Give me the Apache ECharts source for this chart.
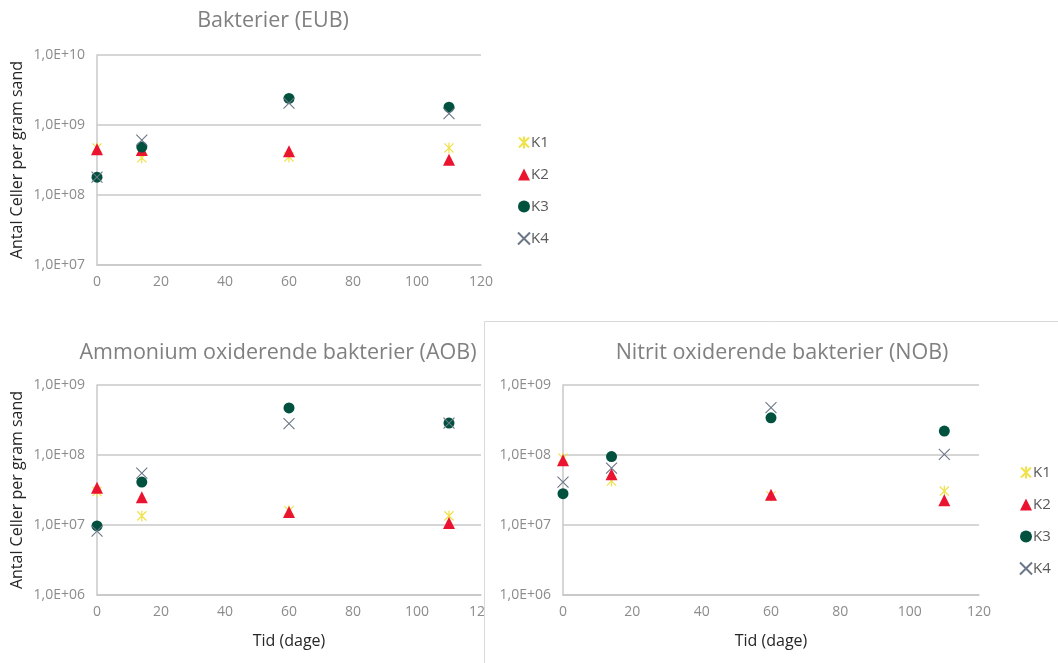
<!DOCTYPE html>
<html>
<head>
<meta charset="utf-8">
<script src="https://cdn.jsdelivr.net/npm/echarts@6/dist/echarts.min.js"></script>
<style>
  html, body { margin: 0; padding: 0; background: #fff; }
  #main { width: 1058px; height: 663px; }
</style>
</head>
<body>
<div id="main"></div>
<script>
// sampling days
var days = [0, 14, 60, 110];

// Bakterier (EUB)
var eubK1 = [4.7e8, 3.4e8, 3.5e8, 4.7e8];
var eubK2 = [4.5e8, 4.4e8, 4.2e8, 3.2e8];
var eubK3 = [1.8e8, 4.85e8, 2.4e9, 1.8e9];
var eubK4 = [1.8e8, 6.1e8, 2.05e9, 1.45e9];

// Ammonium oxiderende bakterier (AOB)
var aobK1 = [3.0e7, 1.35e7, 1.6e7, 1.35e7];
var aobK2 = [3.4e7, 2.5e7, 1.53e7, 1.07e7];
var aobK3 = [9.7e6, 4.1e7, 4.7e8, 2.86e8];
var aobK4 = [8.2e6, 5.5e7, 2.8e8, 2.86e8];

// Nitrit oxiderende bakterier (NOB)
var nobK1 = [9.0e7, 4.25e7, 2.6e7, 3.05e7];
var nobK2 = [8.4e7, 5.3e7, 2.7e7, 2.25e7];
var nobK3 = [2.8e7, 9.5e7, 3.4e8, 2.2e8];
var nobK4 = [4.1e7, 6.5e7, 4.75e8, 1.02e8];

var seriesNames = ['K1', 'K2', 'K3', 'K4'];

var FONT = '"Open Sans", "Noto Sans", sans-serif';
var GRIDCOL = '#c8c8c8';
var LABCOL = '#8c8c8c';

var markers = {
  K1: { symbol: 'path://M0,0L10,10M10,0L0,10M5,-1L5,11', size: 11, color: 'rgba(0,0,0,0)', border: '#efe24a', bw: 1.2 },
  K2: { symbol: 'triangle', size: 12, color: '#ea1431', border: '#ea1431', bw: 0 },
  K3: { symbol: 'circle', size: 11, color: '#00513d', border: '#00513d', bw: 0 },
  K4: { symbol: 'path://M0,0L10,10M10,0L0,10', size: 11, color: 'rgba(0,0,0,0)', border: '#6b7787', bw: 1.1 }
};

function pairs(vals) {
  return days.map(function (d, i) { return [d, vals[i]]; });
}

function expLabel(v) {
  var e = Math.round(Math.log10(v));
  return '1,0E+' + (e < 10 ? '0' + e : e);
}

function makeSeries(gridIdx, lists, z) {
  return seriesNames.map(function (name, i) {
    var m = markers[name];
    return {
      name: name,
      type: 'scatter',
      xAxisIndex: gridIdx,
      yAxisIndex: gridIdx,
      symbol: m.symbol,
      symbolSize: m.size,
      symbolKeepAspect: true,
      z: z,
      itemStyle: { color: m.color, borderColor: m.border, borderWidth: m.bw, opacity: 1 },
      data: pairs(lists[i])
    };
  });
}

function xAxisOf(gridIdx, named, z) {
  return {
    type: 'value',
    gridIndex: gridIdx,
    min: 0, max: 120, interval: 20,
    z: z,
    axisLine: { show: true, lineStyle: { color: GRIDCOL, width: 1.5 } },
    axisTick: { show: false },
    splitLine: { show: false },
    axisLabel: { color: LABCOL, fontFamily: FONT, fontSize: 14, margin: 10 },
    name: named ? 'Tid (dage)' : '',
    nameLocation: 'middle',
    nameGap: 38,
    nameTextStyle: { color: '#262626', fontFamily: FONT, fontSize: 16 }
  };
}

function yAxisOf(gridIdx, min, max, named, z) {
  return {
    type: 'log',
    logBase: 10,
    gridIndex: gridIdx,
    min: min, max: max,
    z: z,
    axisLine: { show: true, lineStyle: { color: GRIDCOL, width: 1.5 } },
    axisTick: { show: false },
    splitLine: { show: true, lineStyle: { color: GRIDCOL, width: 1.5 } },
    axisLabel: { color: LABCOL, fontFamily: FONT, fontSize: 14, margin: 12, formatter: expLabel },
    name: named ? 'Antal Celler per gram sand' : '',
    nameLocation: 'middle',
    nameGap: 72,
    nameTextStyle: { color: '#262626', fontFamily: FONT, fontSize: 16 }
  };
}

function titleOf(text, x, y) {
  return {
    text: text,
    left: x,
    top: y,
    textAlign: 'center',
    textStyle: { color: '#808080', fontFamily: FONT, fontSize: 21.5, fontWeight: 'normal' }
  };
}

function legendOf(x, y) {
  return {
    data: seriesNames,
    orient: 'vertical',
    left: x,
    top: y,
    itemGap: 17,
    itemWidth: 12,
    itemHeight: 12,
    selectedMode: false,
    z: 10,
    textStyle: { color: '#595959', fontFamily: FONT, fontSize: 15, padding: [0, 0, 0, -4] }
  };
}

var chart = echarts.init(document.getElementById('main'));

var option = {
  animation: false,
  backgroundColor: '#fff',
  title: [
    titleOf('Bakterier (EUB)', 268, 5),
    titleOf('Ammonium oxiderende bakterier (AOB)', 273, 337),
    titleOf('Nitrit oxiderende bakterier (NOB)', 777, 337)
  ],
  legend: [legendOf(512, 130), legendOf(1014, 460)],
  graphic: [{
    type: 'rect',
    z: 1,
    shape: { x: 484.5, y: 321.5, width: 600, height: 400 },
    style: { fill: '#fff', stroke: '#d9d9d9', lineWidth: 1 }
  }],
  grid: [
    { left: 97, top: 55, width: 384, height: 210 },
    { left: 97, top: 385, width: 384, height: 210 },
    { left: 563, top: 385, width: 416, height: 210 }
  ],
  xAxis: [xAxisOf(0, false, 0), xAxisOf(1, true, 0), xAxisOf(2, true, 3)],
  yAxis: [
    yAxisOf(0, 1e7, 1e10, true, 0),
    yAxisOf(1, 1e6, 1e9, true, 0),
    yAxisOf(2, 1e6, 1e9, false, 3)
  ],
  series: []
    .concat(makeSeries(0, [eubK1, eubK2, eubK3, eubK4], 4))
    .concat(makeSeries(1, [aobK1, aobK2, aobK3, aobK4], 4))
    .concat(makeSeries(2, [nobK1, nobK2, nobK3, nobK4], 5))
};

chart.setOption(option);
</script>
</body>
</html>
